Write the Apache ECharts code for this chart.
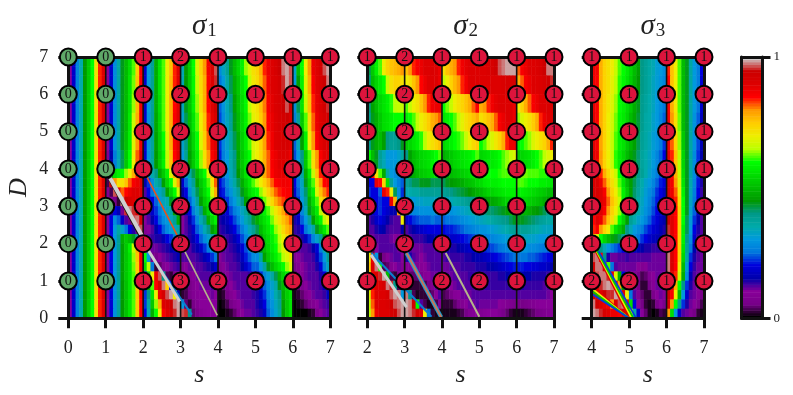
<!DOCTYPE html>
<html><head><meta charset="utf-8">
<script src="https://cdn.jsdelivr.net/npm/echarts@6/dist/echarts.min.js"></script>
<style>html,body{margin:0;background:#fff}#c{width:793px;height:395px}</style></head>
<body><div id="c"></div><script>
const spectral=['#000000','#770088','#880099','#0000aa','#0000dd','#0077dd','#0099dd','#00aaaa','#009988','#009900','#00bb00','#00dd00','#00ff00','#bbff00','#eeee00','#ffcc00','#ff9900','#ff0000','#dd0000','#cc0000','#cccccc'];
// Rows run top to bottom: six rows D 7..4 (each 0.5 tall), sixteen rows D 4..0 (each 0.25 tall). Columns are 0.1 wide in s. Values in percent.
const panel1StripeS0=[10,18,27,35,45,52,60,72,84,90];
const panel1Rows=[
[10,18,28,36,44,50,55,62,75,86, 18,30,38,48,56,62,70,76,84,90, 34,45,52,60,68,74,80,87,91,97, 28,33,38,44,50,54,58,64,68,72, 74,78,84,88,90,92,95,98,99,97, 32,50,60,70,80,88,90,93,97,99],
[10,18,28,36,44,50,56,63,76,86, 18,30,38,48,56,62,70,77,84,90, 34,45,52,59,66,73,78,86,90,96, 25,30,36,42,48,52,56,60,66,71, 73,77,82,87,90,91,93,96,99,97, 30,46,58,68,78,86,90,92,95,98],
[10,18,28,36,44,50,56,64,77,87, 18,30,38,48,55,62,70,78,85,90, 33,44,51,58,64,72,78,85,90,95, 24,29,34,40,46,51,55,59,65,70, 72,76,81,86,89,91,92,95,97,95, 28,42,56,66,76,84,89,91,94,96],
[10,18,28,36,44,50,57,66,78,87, 18,29,38,47,54,62,70,78,86,90, 32,42,50,56,62,70,76,84,89,92, 23,28,33,38,44,50,54,58,63,69, 71,75,80,85,88,90,92,93,95,92, 26,38,52,62,73,82,88,90,92,94],
[10,18,29,36,44,51,58,68,80,88, 18,29,37,46,53,60,68,78,86,90, 32,40,48,54,60,68,75,82,88,90, 22,27,32,36,42,48,53,57,62,68, 70,74,79,84,87,90,91,92,92,90, 24,34,46,58,70,80,86,89,91,92],
[8,15,26,34,42,52,60,70,82,90, 18,29,37,45,52,58,66,76,85,90, 30,38,46,52,58,64,72,80,86,89, 21,26,30,35,40,47,52,56,60,67, 70,73,78,82,86,88,90,90,90,88, 23,30,40,52,62,72,80,86,89,90],
[15,45,55,58,60,64,70,78,84,90, 18,27,35,40,47,52,58,68,78,88, 22,30,36,42,50,55,60,68,76,84, 21,25,29,34,39,45,51,56,59,65, 69,73,78,82,85,88,89,89,88,86, 22,27,36,48,57,66,76,84,88,89],
[3,95,80,72,72,76,82,86,88,90, 15,22,28,35,38,46,54,60,68,78, 18,24,32,38,46,52,56,62,72,82, 20,23,27,32,36,42,48,53,57,62, 65,70,74,78,82,85,86,87,87,86, 20,25,33,44,54,62,72,80,85,87],
[8,3,97,88,82,85,88,90,90,90, 12,20,25,30,33,38,46,54,60,66, 15,20,28,34,42,50,55,60,68,78, 18,21,25,29,33,38,44,50,55,58, 60,64,69,74,78,82,84,85,86,86, 18,24,32,41,52,58,68,76,81,84],
[10,10,5,2,98,95,92,90,90,88, 12,16,20,24,30,33,35,44,52,58, 14,18,24,30,38,46,52,56,64,74, 17,19,22,26,30,34,40,46,50,54, 56,59,63,68,73,78,81,83,85,86, 17,22,30,38,48,55,62,72,76,80],
[10,14,20,16,6,96,98,96,92,88, 10,14,18,22,26,30,33,36,46,54, 12,15,20,26,32,40,48,54,60,68, 15,17,19,23,26,29,33,37,42,48, 52,55,58,62,66,71,75,79,83,85, 15,20,27,34,44,52,57,65,71,75],
[10,20,28,24,18,12,5,97,98,92, 10,12,15,20,24,28,30,34,38,48, 10,12,16,22,28,34,40,48,54,58, 14,15,17,20,23,26,30,34,38,43, 48,53,56,59,63,68,72,76,79,82, 14,17,24,30,37,46,54,59,65,70],
[10,20,30,36,32,25,20,14,5,97, 8,10,12,15,20,24,28,30,33,36, 10,12,14,18,24,28,34,40,46,50, 13,14,15,17,20,23,26,30,34,38, 42,50,54,57,60,64,68,73,77,80, 13,14,20,25,31,36,44,52,57,62],
[10,20,30,38,48,52,50,44,38,60, 10,12,13,14,14,16,20,22,25,30, 14,12,14,16,20,24,28,32,36,40, 12,13,13,14,16,19,23,27,30,35, 38,46,52,55,58,61,65,70,74,78, 12,13,14,17,22,27,32,38,46,54],
[10,20,30,38,46,52,58,66,78,88, 10,10,11,11,12,13,14,15,17,20, 14,12,12,14,16,18,22,26,30,33, 11,12,12,13,14,16,19,23,27,32, 36,44,50,54,57,60,64,68,72,76, 11,12,12,12,13,15,19,26,34,45],
[10,20,30,38,46,52,56,64,76,86, 60,30,5,6,10,11,12,13,14,16, 12,12,12,12,13,14,16,18,22,25, 9,11,12,12,13,14,17,21,24,28, 28,36,46,52,55,58,61,65,68,72, 8,10,11,12,12,13,17,23,30,38],
[10,20,30,38,46,52,56,63,75,86, 55,65,25,2,4,8,10,11,12,13, 8,10,11,11,12,12,13,14,15,18, 7,9,11,12,12,13,15,18,21,24, 24,30,37,44,50,54,57,60,64,68, 5,8,10,11,12,12,14,19,26,33],
[10,20,30,38,46,52,56,62,75,86, 20,55,70,88,97,40,3,2,6,10, 4,5,8,10,11,12,12,12,13,14, 4,6,9,11,12,12,12,12,13,14, 17,22,27,31,36,42,49,54,57,61, 3,6,9,11,12,12,12,14,20,27],
[10,19,29,37,45,51,56,62,75,85, 22,48,62,85,92,98,75,20,2,3, 2,3,5,8,10,11,11,11,12,13, 2,4,7,10,11,12,12,12,12,13, 15,19,24,28,32,36,44,50,54,58, 2,4,7,10,11,12,12,13,16,22],
[10,19,29,37,45,51,56,62,75,85, 22,40,56,70,88,92,97,99,70,15, 2,3,5,8,9,10,10,10,11,10, 1,2,5,8,10,11,12,12,12,13, 14,17,22,27,30,35,40,48,53,56, 1,2,4,7,10,11,12,12,13,17],
[10,19,29,37,45,51,56,62,75,85, 22,36,52,64,78,90,92,95,98,99, 30,4,2,5,8,10,10,10,10,10, 0,1,3,5,8,10,11,12,12,12, 14,16,20,25,29,33,38,46,52,56, 0,1,2,4,6,8,10,11,12,13],
[10,19,29,37,45,51,56,62,75,85, 20,34,48,60,70,86,90,93,96,99, 97,96,40,4,6,8,9,10,10,10, 0,0,1,2,4,8,10,11,11,12, 13,14,17,24,28,32,37,45,52,56, 0,0,0,0,1,2,6,10,11,12]
];
const panel2Rows=[
[42,52,58,62,70,74,76,77,78,80, 76,80,84,86,88,90,90,91,90,88, 72,76,78,80,84,87,89,90,90,90, 90,90,91,92,94,97,98,99,99,99, 82,86,88,90,90,91,92,95,98,98],
[40,50,54,57,60,66,72,74,74,72, 70,72,76,80,85,88,90,90,90,88, 66,70,74,77,80,84,87,90,90,90, 90,90,90,90,90,90,91,92,92,92, 78,82,86,88,90,90,91,92,94,96],
[40,46,50,54,56,58,61,65,66,66, 62,66,70,72,76,80,84,87,88,88, 60,63,66,70,72,74,76,78,82,86, 78,80,84,87,89,90,90,90,90,88, 70,74,78,82,86,88,90,90,91,91],
[38,44,48,52,55,56,58,60,60,60, 58,60,62,66,70,72,75,78,80,82, 56,58,60,62,65,69,72,74,76,78, 72,74,76,78,82,86,88,90,90,88, 64,68,70,72,75,78,84,88,90,90],
[38,44,48,50,46,40,38,38,40,44, 52,54,56,58,61,65,70,72,74,76, 54,56,58,60,61,63,66,70,73,75, 60,62,65,68,71,74,78,84,88,88, 58,60,62,64,68,70,72,74,78,84],
[60,50,44,38,34,30,30,30,32,36, 40,46,50,52,54,55,56,58,60,62, 48,50,52,54,55,56,57,58,60,62, 54,55,56,57,58,60,62,64,66,68, 52,54,55,56,58,60,62,65,68,70],
[22,85,72,62,48,36,30,28,27,30, 42,46,48,50,52,53,54,55,56,56, 48,49,50,51,52,53,54,55,56,57, 58,60,60,60,60,61,62,62,62,62, 63,63,63,62,62,62,61,61,60,60],
[20,20,88,85,74,55,38,30,26,24, 38,40,42,42,44,44,44,42,42,42, 42,44,45,46,47,48,50,51,52,54, 55,57,58,58,58,59,60,60,60,60, 62,62,61,60,60,60,58,58,57,56],
[22,20,20,24,88,84,70,42,28,22, 34,35,36,36,38,38,38,38,38,38, 38,39,40,41,42,43,44,45,47,49, 50,52,54,54,55,56,57,58,58,58, 58,58,57,56,55,54,53,52,50,50],
[18,20,20,22,20,20,88,78,32,22, 28,30,30,32,32,33,33,33,33,32, 32,33,34,35,36,37,38,39,40,42, 44,45,46,47,48,50,52,54,54,55, 55,54,54,53,52,51,50,48,46,45],
[14,18,20,22,20,18,16,15,80,28, 24,26,27,28,29,29,29,29,28,28, 28,29,29,30,31,32,33,34,35,37, 38,40,41,41,42,43,44,46,48,50, 50,50,49,48,46,45,44,42,40,40],
[12,14,18,20,18,15,13,12,12,70, 18,20,22,23,24,24,24,25,24,24, 24,25,25,26,27,28,29,30,31,32, 33,34,35,36,37,38,39,40,42,44, 44,44,43,42,41,40,38,37,36,36],
[12,12,14,16,15,13,12,12,12,15, 12,14,15,17,18,19,20,20,20,20, 20,21,21,22,23,24,25,26,27,28, 29,29,30,31,32,33,34,35,37,38, 38,38,38,37,36,35,34,33,33,32],
[11,11,12,12,12,12,11,10,8,10, 12,12,13,13,13,14,15,16,17,17, 17,18,18,18,19,20,21,22,23,24, 25,25,26,27,28,29,30,31,32,33, 33,33,33,32,32,31,30,30,29,28],
[50,3,10,12,12,12,12,12,11,9, 12,12,11,11,11,12,12,12,12,13, 13,14,14,14,15,16,17,18,18,19, 20,21,22,23,24,25,26,27,28,29, 29,29,29,28,28,27,26,25,24,24],
[70,88,30,2,5,9,11,12,12,10, 14,14,12,11,10,11,12,12,12,12, 12,13,13,13,13,13,14,14,15,16, 16,17,18,19,20,21,22,23,24,25, 25,25,25,24,24,23,22,21,20,19],
[75,90,98,60,3,4,8,10,11,8, 10,9,8,8,9,10,11,12,12,12, 11,11,12,12,12,13,13,13,13,14, 14,14,15,15,16,17,18,19,20,21, 21,21,20,20,19,19,18,18,17,15],
[72,88,90,96,99,50,3,2,6,10, 4,4,4,4,6,9,10,11,11,12, 10,11,11,12,12,12,12,13,13,13, 13,13,13,13,13,14,14,15,16,17, 16,16,15,15,14,14,14,14,13,13],
[70,85,90,90,92,98,96,40,3,2, 3,2,2,2,2,3,5,8,11,12, 6,8,10,11,12,12,12,12,12,13, 13,13,13,13,13,13,13,13,13,14, 14,14,13,13,13,13,13,12,12,12],
[68,84,90,90,90,92,97,99,98,30, 98,40,3,1,2,2,2,4,10,12, 3,4,6,9,10,11,11,11,12,12, 12,12,12,12,12,12,12,12,12,12, 12,12,12,12,12,12,12,12,11,10],
[66,82,90,90,90,91,94,97,98,99, 99,98,92,60,12,3,1,1,3,8, 2,2,2,4,6,8,10,11,11,12, 11,11,11,11,11,10,9,8,7,6, 5,5,6,7,8,9,10,10,10,10],
[65,80,88,90,90,90,92,94,97,99, 99,98,96,93,90,70,25,2,1,1, 1,1,1,1,2,3,5,8,9,9, 8,9,10,10,10,8,6,4,2,1, 1,1,2,3,4,5,6,7,8,9]
];
const panel3Rows=[
[88,87,78,74,72,70,66,62,60,57, 54,50,46,40,38,36,34,31,30,28, 84,76,70,62,50,44,36,30,26,20],
[88,86,78,74,72,69,65,61,59,56, 53,49,45,40,38,36,33,31,29,27, 85,76,70,62,50,44,36,30,26,19],
[89,86,78,74,71,68,64,60,58,55, 52,48,44,39,37,35,33,30,28,25, 86,78,71,62,50,44,36,30,25,18],
[90,86,78,74,70,67,63,59,57,54, 50,47,43,39,36,35,32,30,27,24, 87,80,72,63,50,44,36,29,24,17],
[90,87,79,74,70,66,62,58,56,52, 49,46,42,38,36,34,31,29,26,22, 88,82,74,64,52,44,36,29,23,16],
[90,88,80,74,70,66,61,57,54,50, 47,44,41,37,35,33,30,27,24,20, 89,84,76,65,54,44,36,28,22,15],
[92,90,84,78,73,70,66,60,55,50, 46,44,40,38,35,32,29,26,23,20, 90,86,78,66,55,44,36,28,22,15],
[92,92,88,82,76,72,68,62,56,50, 46,42,38,35,32,30,27,24,21,19, 91,87,80,68,56,44,35,27,21,14],
[92,92,90,86,80,74,70,64,58,52, 46,41,37,34,31,28,25,22,20,17, 92,88,82,70,58,44,34,26,20,13],
[90,92,90,88,82,76,72,66,58,52, 46,41,36,33,30,27,24,21,19,16, 93,89,84,72,60,44,33,25,19,13],
[88,92,90,86,80,74,70,64,56,50, 44,39,35,32,29,26,23,20,18,15, 94,90,85,74,60,44,32,24,17,12],
[85,90,88,82,76,72,66,60,54,46, 38,35,32,30,27,24,21,19,17,15, 95,90,85,74,60,42,31,22,15,12],
[84,86,80,74,70,62,56,52,48,40, 34,30,28,26,23,21,19,18,16,14, 96,90,85,74,58,42,30,20,14,12],
[75,68,60,54,50,47,44,42,38,34, 30,27,25,22,20,18,17,16,15,13, 97,91,85,74,58,40,28,18,13,12],
[60,50,40,34,30,26,24,22,20,18, 18,17,16,15,14,14,13,13,13,13, 98,92,85,74,56,38,25,15,12,12],
[97,98,85,40,14,11,11,12,12,13, 12,12,12,12,12,12,11,11,11,11, 98,92,85,74,54,36,22,14,12,11],
[92,98,98,92,62,25,12,11,11,11, 11,11,10,8,9,11,11,11,11,11, 98,92,85,70,50,32,20,13,11,11],
[95,97,98,98,96,88,68,48,20,12, 10,8,6,3,4,8,10,11,11,10, 97,90,84,66,48,28,16,12,11,9],
[60,88,96,98,99,98,92,80,45,16, 12,9,5,2,2,5,9,11,11,9, 96,88,78,60,40,22,14,11,10,7],
[92,90,90,94,96,96,99,98,90,70, 25,12,8,4,2,2,6,10,11,9, 94,86,70,50,30,18,12,11,9,5],
[98,94,90,88,86,80,90,97,98,88, 55,20,10,5,2,1,2,6,10,6, 92,80,60,38,22,14,11,10,6,3],
[99,98,96,92,90,88,88,86,90,92, 75,35,18,10,4,1,0,1,3,2, 80,55,30,18,12,11,8,5,2,1]
];
const dValues=[7,6,5,4,3,2,1];
const panel1S=[0,1,2,3,4,5,6,7];
const panel1Counts=[[0,0,1,2,1,1,1,1],[0,0,1,2,1,1,1,1],[0,0,1,2,1,1,1,1],[0,0,1,2,1,1,1,1],[0,0,1,2,1,1,1,1],[0,0,1,2,1,1,1,1],[0,0,1,3,2,2,1,1]];
const panel2S=[2,3,4,5,6,7];
const panel2Counts=[[1,2,1,1,1,1],[1,2,1,1,1,1],[1,2,1,1,1,1],[1,2,1,1,1,1],[1,2,1,1,1,1],[1,2,1,1,1,1],[1,3,2,2,1,1]];
const panel3S=[4,5,6,7];
const panel3Counts=[[1,1,1,1],[1,1,1,1],[1,1,1,1],[1,1,1,1],[1,1,1,1],[1,1,1,1],[2,2,1,1]];
const panel1Dividers=[1,2,3,4,6], panel2Dividers=[3,4,6], panel3Dividers=[6];
// thin diagonal features, read as [s, D] end points
const panel1Streaks=[[[1.07,3.8],[1.95,2.15]],[[1.12,3.75],[2,2.15]],[[2.1,3.79],[2.91,2.22]],[[3.12,1.78],[3.98,0.08]],[[2.06,1.9],[3.3,0.1]],[[2.12,1.85],[2.98,0.45]]];
const panel2Streaks=[[[4.1,1.75],[5,0.04]],[[3.05,1.75],[3.98,0.03]],[[3.05,1.75],[3.98,0.03]],[[2.11,1.75],[3.72,0.04]],[[2.1,1.7],[3.05,0.3]]];
const panel3Streaks=[[[4.1,1.8],[5,0.03]],[[4.13,1.8],[5.05,0.03]],[[4.15,1.8],[5.1,0.03]],[[4.18,1.8],[5.17,0.03]],
 [[4.03,0.85],[4.97,0.02]],[[4.03,0.78],[4.97,0.02]],[[4.03,0.71],[4.97,0.02]],[[4.03,0.64],[4.97,0.02]]];
const colorbarLevels=Array.from({length:101},(_,k)=>k);

const rainbow=[{c:'#e00000',w:1.8},{c:'#eeee00',w:1.8},{c:'#00cc00',w:1.8},{c:'#0040dd',w:1.8}];
const streakStyles=[
 [{c:'#111',w:3},{c:'#d0d0d0',w:4},{c:'#e8501a',w:1.6},{c:'#b5b58a',w:1.6},{c:'#0a80d0',w:2},{c:'#cfcfcf',w:3}],
 [{c:'#b5b58a',w:2},{c:'#1a9ad0',w:4},{c:'#c8785a',w:2},{c:'#0a80d0',w:2},{c:'#cfcfcf',w:3}],
 rainbow.concat(rainbow)
];
const serif='"Liberation Serif","DejaVu Serif",serif', ink='#111';
const panels=[
 {s:panel1S,counts:panel1Counts,rows:panel1Rows.map(r=>panel1StripeS0.concat(r)),div:panel1Dividers,streaks:panel1Streaks,left:68.3,width:262,sub:'1',labels:true},
 {s:panel2S,counts:panel2Counts,rows:panel2Rows,div:panel2Dividers,streaks:panel2Streaks,left:367.3,width:186.7,sub:'2',labels:false},
 {s:panel3S,counts:panel3Counts,rows:panel3Rows,div:panel3Dividers,streaks:panel3Streaks,left:591.7,width:112.3,sub:'3',labels:false}
];
const grid=[],xAxis=[],yAxis=[],series=[],title=[];
const BANDS=28;
const spine={show:true,lineStyle:{color:ink,width:3}};
panels.forEach((p,i)=>{
 grid.push({left:p.left,top:57,width:p.width,height:261.3});
 const sMin=p.s[0],sMax=p.s[p.s.length-1],cols=p.rows[0].length;
 xAxis.push({type:'value',gridIndex:i,min:sMin,max:sMax,interval:1,z:6,position:'bottom',splitLine:{show:false},
  axisLine:{...spine,onZero:false},axisTick:{show:true,length:10,lineStyle:{color:ink,width:3}},
  axisLabel:{fontFamily:serif,fontSize:18,color:'#222',margin:21},
  name:'s',nameLocation:'middle',nameGap:44,nameTextStyle:{fontFamily:serif,fontStyle:'italic',fontSize:26,color:'#222'}});
 xAxis.push({type:'category',gridIndex:i,position:'top',data:Array.from({length:cols},(_,k)=>k),boundaryGap:true,z:6,
  axisLine:{...spine,onZero:false},axisTick:{show:false},axisLabel:{show:false},splitLine:{show:false}});
 yAxis.push({type:'value',gridIndex:i,min:0,max:7,interval:1,z:6,position:'left',splitLine:{show:false},
  axisLine:{...spine,onZero:false},axisTick:{show:true,length:10,lineStyle:{color:ink,width:3}},
  axisLabel:{show:p.labels,fontFamily:serif,fontSize:18,color:'#222',margin:20},
  name:p.labels?'D':'',nameLocation:'middle',nameGap:36,nameRotate:90,nameTextStyle:{fontFamily:serif,fontStyle:'italic',fontSize:26,color:'#222'}});
 yAxis.push({type:'category',gridIndex:i,position:'right',data:Array.from({length:BANDS},(_,k)=>k),boundaryGap:true,z:6,
  axisLine:{...spine,onZero:false},axisTick:{show:false},axisLabel:{show:false},splitLine:{show:false}});
 const cells=[];
 p.rows.forEach((row,r)=>{
  const bands=r<6?[27-2*r,26-2*r]:[21-r];
  row.forEach((v,c)=>bands.forEach(b=>cells.push([c,b,v])));
 });
 series.push({type:'heatmap',xAxisIndex:2*i+1,yAxisIndex:2*i+1,data:cells,progressive:0,z:2,itemStyle:{borderWidth:0},emphasis:{disabled:true}});
 p.div.forEach(s=>series.push({type:'line',xAxisIndex:2*i,yAxisIndex:2*i,data:[[s,0],[s,7]],symbol:'none',silent:true,z:3,clip:false,lineStyle:{color:'#111',width:1.6},animation:false}));
 p.streaks.forEach((st,k)=>series.push({type:'line',xAxisIndex:2*i,yAxisIndex:2*i,data:st,symbol:'none',silent:true,z:3,lineStyle:{color:streakStyles[i][k].c,width:streakStyles[i][k].w},animation:false}));
 const pts=[];
 dValues.forEach((d,r)=>p.s.forEach((s,c)=>pts.push([s,d,p.counts[r][c]])));
 series.push({type:'scatter',xAxisIndex:2*i,yAxisIndex:2*i,data:pts,symbolSize:17,clip:false,z:10,
  itemStyle:{opacity:1,borderColor:'#000',borderWidth:2,color:o=>o.value[2]===0?'#5fa868':'#dc143c'},
  label:{show:true,position:'inside',formatter:o=>String(o.value[2]),fontFamily:serif,fontSize:14,color:'#111'}});
 title.push({left:p.left+p.width/2,top:6,textAlign:'center',
  text:'{a|σ}{b|'+p.sub+'}',textStyle:{fontWeight:'normal',rich:{a:{fontFamily:serif,fontStyle:'italic',fontWeight:'normal',fontSize:29,color:'#222'},b:{fontFamily:serif,fontWeight:'normal',fontSize:19,color:'#222',padding:[11,0,0,1]}}}});
});
// colour bar: frame, colours and its 0 / 1 scale
grid.push({left:741.5,top:57,width:21,height:261.3});
xAxis.push({type:'category',gridIndex:3,position:'bottom',data:[0],z:6,axisLine:{...spine,onZero:false},axisTick:{show:false},axisLabel:{show:false}});
xAxis.push({type:'category',gridIndex:3,position:'top',data:[0],z:6,axisLine:{...spine,onZero:false},axisTick:{show:false},axisLabel:{show:false}});
yAxis.push({type:'value',gridIndex:3,position:'right',min:0,max:1,interval:1,z:6,splitLine:{show:false},axisLine:{...spine,onZero:false},
 axisTick:{show:true,length:8,lineStyle:{color:ink,width:3}},axisLabel:{fontFamily:serif,fontSize:13,color:'#222',margin:11}});
yAxis.push({type:'category',gridIndex:3,position:'left',data:colorbarLevels,z:6,axisLine:{...spine,onZero:false},axisTick:{show:false},axisLabel:{show:false}});
series.push({type:'heatmap',xAxisIndex:6,yAxisIndex:7,data:colorbarLevels.map((v,k)=>[0,k,v]),progressive:0,z:2,emphasis:{disabled:true}});
const heatIdx=series.map((s,i)=>s.type==='heatmap'?i:-1).filter(i=>i>=0);
const chart=echarts.init(document.getElementById('c'),null,{renderer:'canvas'});
chart.setOption({animation:false,backgroundColor:'#fff',title,grid,xAxis,yAxis,series,tooltip:{show:false},
 visualMap:{type:'continuous',show:false,seriesIndex:heatIdx,min:0,max:100,inRange:{color:spectral}}});
</script></body></html>
